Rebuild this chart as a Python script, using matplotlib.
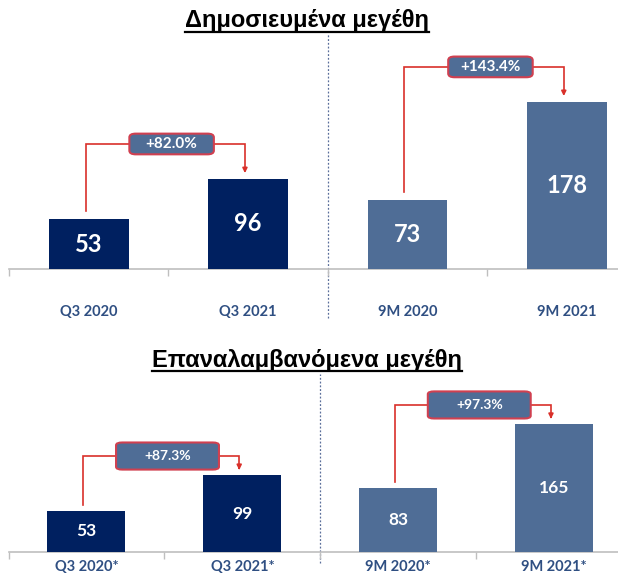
import matplotlib
matplotlib.use("Agg")
import matplotlib.pyplot as plt
from matplotlib.patches import FancyBboxPatch
from matplotlib.lines import Line2D

# data
top_title = "Δημοσιευμένα μεγέθη"
top_labels = ["Q3 2020", "Q3 2021", "9M 2020", "9M 2021"]
top_values = [53, 96, 73, 178]
top_growth = ["+82.0%", "+143.4%"]

bot_title = "Επαναλαμβανόμενα μεγέθη"
bot_labels = ["Q3 2020*", "Q3 2021*", "9M 2020*", "9M 2021*"]
bot_values = [53, 99, 83, 165]
bot_growth = ["+87.3%", "+97.3%"]

NAVY = "#002060"
STEEL = "#4F6D96"
LABEL = "#2F4F82"
RED = "#D9302A"
BOX_EDGE = "#D04050"

W, H = 618, 577
fig = plt.figure(figsize=(W / 100, H / 100), dpi=100)


def px_axes(left, right, base, top):
    # pixel box -> figure fraction
    return fig.add_axes([left / W, (H - base) / H, (right - left) / W, (base - top) / H])


def draw_panel(ax, labels, values, growth, xmax, ymax, val_fs, box_fs, box_w, box_h,
               lift, start_gap, tip_gap, sep_lo, sep_hi):
    x = list(range(len(values)))
    colors = [NAVY, NAVY, STEEL, STEEL]
    ax.bar(x, values, width=0.5, color=colors, zorder=3)
    for xi, v in zip(x, values):
        ax.text(xi, v / 2, str(v), ha="center", va="center", color="white",
                fontsize=val_fs, fontweight="bold", family="Lato", zorder=4)

    ax.set_xlim(-0.5, xmax)
    ax.set_ylim(0, ymax)
    for s in ["top", "right", "left"]:
        ax.spines[s].set_visible(False)
    ax.spines["bottom"].set_color("#BFBFBF")
    ax.spines["bottom"].set_linewidth(1.2)
    ax.set_yticks([])
    ax.set_xticks(x)
    ax.set_xticklabels(labels, color=LABEL, fontsize=10.5, fontweight="bold", family="Lato")
    ax.set_xticks([-0.5, 0.5, 1.5, 2.5], minor=True)
    ax.tick_params(axis="x", which="major", length=0)
    ax.tick_params(axis="x", which="minor", length=5, color="#BFBFBF", width=1)

    # separator between Q3 and 9M
    ax.axvline(1.5, ymin=sep_lo, ymax=sep_hi, color="#5A6E9A", lw=0.9,
               ls=(0, (1.5, 1.5)), clip_on=False, zorder=1)

    # growth brackets
    for (i, j), g in zip([(0, 1), (2, 3)], growth):
        a, b = values[i], values[j]
        level = max(a, b) + lift
        xa, xb = i - 0.02, j - 0.02
        ax.plot([xa, xa, xb, xb], [a + start_gap, level, level, b + tip_gap + 3],
                color=RED, lw=1.2, zorder=2, solid_joinstyle="miter")
        ax.annotate("", xy=(xb, b + tip_gap), xytext=(xb, b + tip_gap + 4),
                    arrowprops=dict(arrowstyle="-|>", color=RED, lw=1.2,
                                    mutation_scale=7, shrinkA=0, shrinkB=0))
        cx = (i + j) / 2 + 0.02
        box = FancyBboxPatch((cx - box_w / 2, level - box_h / 2), box_w, box_h,
                             boxstyle="round,pad=0,rounding_size=0.04",
                             mutation_aspect=ymax / (xmax + 0.5) * 1.5,
                             fc=STEEL, ec=BOX_EDGE, lw=1.5, zorder=5)
        ax.add_patch(box)
        ax.text(cx, level, g, ha="center", va="center", color="white",
                fontsize=box_fs, fontweight="bold", family="Lato", zorder=6)


# top panel: baseline at y=269 px, ~0.94 px per unit
ax1 = px_axes(9, 618, 269, 34)
draw_panel(ax1, top_labels, top_values, top_growth, xmax=3.32, ymax=250,
           val_fs=17, box_fs=11, box_w=0.53, box_h=22,
           lift=37, start_gap=9, tip_gap=6, sep_lo=-0.21, sep_hi=1.0)
ax1.tick_params(axis="x", which="major", pad=26)

# bottom panel: baseline at y=552 px, ~0.775 px per unit
ax2 = px_axes(8.5, 618, 552, 374)
draw_panel(ax2, bot_labels, bot_values, bot_growth, xmax=3.41, ymax=230,
           val_fs=12.5, box_fs=10, box_w=0.66, box_h=35,
           lift=25, start_gap=8, tip_gap=7, sep_lo=-0.06, sep_hi=1.0)
ax2.tick_params(axis="x", which="major", pad=6)

# underlined titles
titles = []
for txt, y in [(top_title, 21), (bot_title, 360)]:
    t = fig.text(307 / W, 1 - y / H, txt, ha="center", va="center",
                 fontsize=17, fontweight="bold", family="Liberation Sans")
    titles.append(t)

fig.canvas.draw()
r = fig.canvas.get_renderer()
for t in titles:
    bb = t.get_window_extent(r)
    yl = bb.y0 + 1
    fig.add_artist(Line2D([bb.x0 / W, bb.x1 / W], [yl / H, yl / H],
                          transform=fig.transFigure, color="black", lw=1.6))

fig.savefig("out.png", dpi=100)
